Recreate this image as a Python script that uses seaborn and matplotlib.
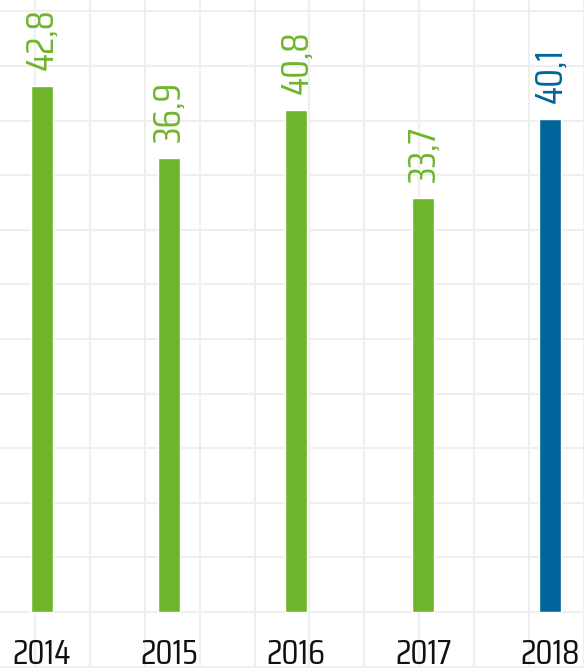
import numpy as np
import pandas as pd
import matplotlib
matplotlib.use('Agg')
import matplotlib.pyplot as plt
import seaborn as sns

# ================= data =================
years = ['2014', '2015', '2016', '2017', '2018']
values = [42.8, 36.9, 40.8, 33.7, 40.1]
labels = ['42,8', '36,9', '40,8', '33,7', '40,1']
bar_colors = ['#6fb52c', '#6fb52c', '#6fb52c', '#6fb52c', '#00659a']

df = pd.DataFrame({'year': years, 'value': values})

sns.set_theme(style='white')
plt.rcParams['font.family'] = ['Saira Condensed', 'DejaVu Sans']

fig = plt.figure(figsize=(5.84, 6.68), dpi=100)
ax = fig.add_axes([0, 0, 1, 1])

sns.barplot(data=df, x='year', y='value', hue='year', palette=bar_colors,
            legend=False, width=0.173, saturation=1, ax=ax, zorder=3)

# axis range (px -> data): baseline at 612 px, 12.3 px per unit
ax.set_ylim(-4.55, 49.76)
ax.set_xlim(-0.33, 4.26)

# background square grid (~54.6 px)
grid_y = np.arange(-1, 12) * 4.44
grid_x = -0.055 + np.arange(0, 11) * 0.432
ax.set_yticks(grid_y)
ax.set_xticks(grid_x, minor=True)
ax.set_xticks(range(len(years)))
ax.grid(True, which='both', color='#efefef', linewidth=1.5, zorder=0)
ax.xaxis.grid(False, which='major')
ax.set_axisbelow(True)
ax.tick_params(left=False, bottom=False, labelleft=False, labelbottom=False,
               which='both')
for s in ax.spines.values():
    s.set_visible(False)
ax.set_xlabel('')
ax.set_ylabel('')

# value labels, rotated
for i, (v, lab) in enumerate(zip(values, labels)):
    ax.annotate(lab, xy=(i, v), xytext=(0, 11.5), textcoords='offset points',
                rotation=90, ha='center', va='bottom', fontsize=28,
                color=bar_colors[i])

# year labels below baseline
for i, y in enumerate(years):
    ax.annotate(y, xy=(i, 0), xytext=(0, -37.2), textcoords='offset points',
                ha='center', va='baseline', fontsize=25.5, color='#111111')

fig.savefig('out.png', dpi=100)
